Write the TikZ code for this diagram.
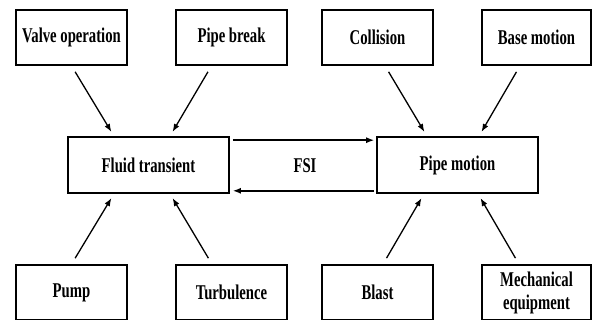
\documentclass[tikz,border=0pt]{standalone}
\usepackage{fontspec}
\setmainfont{Liberation Serif}[FakeStretch=0.70]
\usepackage{tikz}
\usetikzlibrary{positioning,arrows.meta}

\tikzset{
  cause/.style={draw, line width=1.6pt, minimum width=111pt, minimum height=55pt,
    inner sep=0pt, align=center, font=\fontsize{21}{23}\selectfont\bfseries},
  effect/.style={cause, minimum width=161pt, minimum height=56pt},
  push/.style={line width=1.3pt, -{Latex[length=8pt,width=6pt]}, shorten <=7pt, shorten >=5pt},
  link/.style={line width=1.5pt, -{Latex[length=8pt,width=6pt]}}
}

\begin{document}
\begin{tikzpicture}[x=1pt,y=-1pt]
\useasboundingbox (0,0) rectangle (592,320);

% the two states
\node[effect] (fluid) at (148.5,165) {Fluid transient};
\node[effect] (pipe) at (457.5,165) {Pipe motion};

% sources
\node[cause] (valve) at (71.5,37.5) {Valve operation};
\node[cause] (pbreak) at (231.5,37.5) {Pipe break};
\node[cause] (collision) at (377.5,37.5) {Collision};
\node[cause, minimum width=109pt] (base) at (536.5,37.5) {Base motion};
\node[cause] (pump) at (71.5,292.5) {Pump};
\node[cause] (turb) at (231.5,292.5) {Turbulence};
\node[cause] (blast) at (377.5,292.5) {Blast};
\node[cause, minimum width=109pt] (mech) at (536.5,292.5) {Mechanical\\equipment};

% coupling
\draw[link] ([xshift=3pt,yshift=-4pt]fluid.north east) -- ([xshift=-2pt,yshift=-4pt]pipe.north west);
\draw[link] ([xshift=-2pt,yshift=3pt]pipe.south west) -- ([xshift=3pt,yshift=3pt]fluid.south east);
\node (fsi) at (305,166) {\fontsize{21}{23}\selectfont\bfseries FSI};

% loads
\draw[push] (valve.south) -- ([xshift=-34.5pt]fluid.north);
\draw[push] ([xshift=-20pt]pbreak.south) -- ([xshift=21.5pt]fluid.north);
\draw[push] ([xshift=7.5pt]collision.south) -- ([xshift=-30.5pt]pipe.north);
\draw[push] ([xshift=-16.5pt]base.south) -- ([xshift=21.5pt]pipe.north);
\draw[push] (pump.north) -- ([xshift=-34.5pt]fluid.south);
\draw[push] ([xshift=-19.5pt]turb.north) -- ([xshift=21.5pt]fluid.south);
\draw[push] ([xshift=5.5pt]blast.north) -- ([xshift=-33.5pt]pipe.south);
\draw[push] ([xshift=-17.5pt]mech.north) -- ([xshift=20.5pt]pipe.south);
\end{tikzpicture}
\end{document}
